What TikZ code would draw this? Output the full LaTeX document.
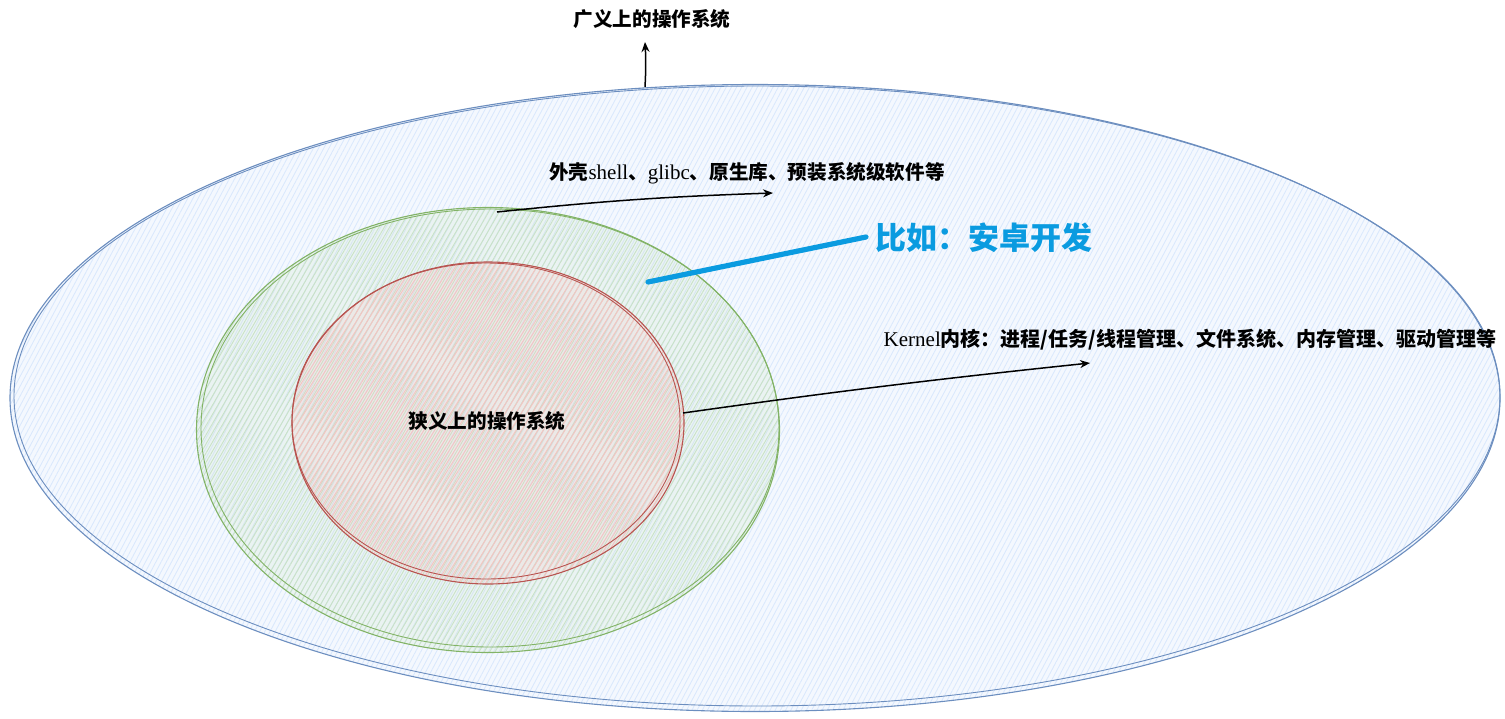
\documentclass[tikz,border=0pt]{standalone}
\usepackage{fontspec}
\setmainfont{Liberation Serif}
\newfontfamily\cjk{Noto Sans CJK SC}
\usetikzlibrary{shapes.geometric,patterns.meta,arrows.meta}
\definecolor{bstroke}{HTML}{6C8EBF}
\definecolor{bfill}{HTML}{DAE8FC}
\definecolor{gstroke}{HTML}{82B366}
\definecolor{gfill}{HTML}{C9E2C7}
\definecolor{rstroke}{HTML}{B85450}
\definecolor{rfill}{HTML}{F4C4C2}
\definecolor{azure}{HTML}{0A9BE0}
\begin{document}
\begin{tikzpicture}[x=0.5pt,y=-0.5pt,
  lbl/.style={font=\cjk\bfseries\fontsize{9.8}{12}\selectfont, inner sep=0pt, text=black},
  conn/.style={line width=0.75pt, black, -{Stealth[length=5pt,width=4pt]}},
  blob/.style={ellipse, inner sep=0pt, line width=0.55pt},
  hatchb/.style={preaction={fill=bfill, fill opacity=0.3},
    pattern={Lines[angle=62,distance=2.3pt,line width=0.45pt]}, pattern color=bfill},
  hatchg/.style={preaction={fill=gfill, fill opacity=0.22},
    pattern={Lines[angle=60,distance=2.3pt,line width=0.45pt]}, pattern color=gfill},
  hatchr/.style={preaction={fill=rfill, fill opacity=0.22},
    pattern={Lines[angle=58,distance=2.3pt,line width=0.45pt]}, pattern color=rfill},
]
\useasboundingbox (0,0) rectangle (1505,718);

% outer ellipse
\node[blob, draw=bstroke, hatchb, minimum width=745pt, minimum height=313.5pt] (outer) at (755,398) {};
\draw[bstroke, line width=0.45pt] (757,396) ellipse [x radius=743, y radius=310];
% green ellipse
\node[blob, draw=gstroke, hatchg, minimum width=291.5pt, minimum height=222.5pt] (green) at (488,430) {};
\draw[gstroke, line width=0.45pt] (490,428) ellipse [x radius=289, y radius=219];
% red ellipse
\node[blob, draw=rstroke, hatchr, minimum width=196pt, minimum height=161pt] (red) at (488,423) {};
\draw[rstroke, line width=0.45pt] (486,421) ellipse [x radius=194, y radius=158];

% labels
\node[lbl] (title) at (652,19) {广义上的操作系统};
\node[lbl] (shell) at (747,173) {外壳{\rmfamily\mdseries\fontsize{10.5}{12}\selectfont shell}、{\rmfamily\mdseries\fontsize{10.5}{12}\selectfont glibc}、原生库、预装系统级软件等};
\node[lbl, font=\cjk\bfseries\fontsize{15.5}{18}\selectfont, text=azure] (android) at (984,238) {比如：安卓开发};
\node[lbl, font=\cjk\bfseries\fontsize{10}{12}\selectfont] (kernel) at (1190,340) {{\rmfamily\mdseries\fontsize{10.5}{12}\selectfont Kernel}内核：进程/任务/线程管理、文件系统、内存管理、驱动管理等};
\node[lbl] (narrow) at (487,421) {狭义上的操作系统};

% connector end points
\coordinate (topstart) at (645,87);
\coordinate (toptip) at (645,42);
\coordinate (shellstart) at (497,212);
\coordinate (shelltip) at (773,193);
\coordinate (bluestart) at (648,282);
\coordinate (blueend) at (866,237);
\coordinate (kernstart) at (683,413);
\coordinate (kerntip) at (1090,363);

\draw[conn] (topstart) to[bend right=3] (toptip);
\draw[conn] (shellstart) to[bend left=2] (shelltip);
\draw[conn] (kernstart) to[bend left=1] (kerntip);
\draw[azure, line width=2.6pt, line cap=round] (bluestart) -- (blueend);
\end{tikzpicture}
\end{document}
